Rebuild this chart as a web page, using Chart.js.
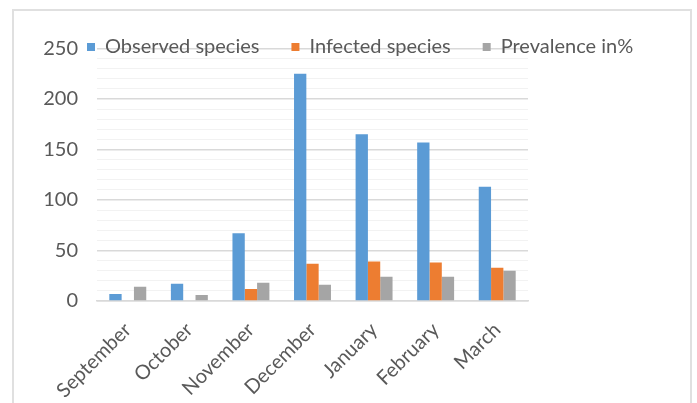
<!DOCTYPE html>
<html>
<head>
<meta charset="utf-8">
<script src="https://cdn.jsdelivr.net/npm/chart.js@4.4.0/dist/chart.umd.min.js"></script>
<style>
    html, body { margin: 0; padding: 0; background: #fff; overflow: hidden; }
    #frame { position: absolute; left: 12px; top: 9px; width: 676px; height: 420px; border: 2px solid #e0e0e0; }
    #chart { position: absolute; left: 0; top: 0; }
</style>
</head>
<body>
<div id="frame"></div>
<canvas id="chart" width="697" height="403"></canvas>
<script>
const months = ['September', 'October', 'November', 'December', 'January', 'February', 'March'];
const observed = [7, 17, 67, 225, 165, 157, 113];
const infected = [0, 0, 12, 37, 39, 38, 33];
const prevalence = [14, 6, 18, 16, 24, 24, 30];
const yMax = 250;
const yStep = 10;
const yLabelStep = 50;

const FONT_SIZE = 20;
const LEGEND_GAP = 32;

Chart.defaults.font.family = 'Lato, "Open Sans", sans-serif';
Chart.defaults.font.size = FONT_SIZE;
Chart.defaults.color = '#595959';

// put the legend on the 250 line like the original, instead of above the plot
const legendMover = {
    id: 'legendMover',
    afterLayout(chart) {
        const lg = chart.legend;
        lg.left = 87 - LEGEND_GAP;
        lg.top = 47 - LEGEND_GAP - FONT_SIZE / 2;
        lg.right = chart.width;
        lg.bottom = lg.top + 2 * LEGEND_GAP + FONT_SIZE;
    }
};

new Chart(document.getElementById('chart').getContext('2d'), {
    type: 'bar',
    data: {
        labels: months,
        datasets: [{
            label: 'Observed species',
            data: observed,
            backgroundColor: '#5b9bd5',
            borderWidth: 0
        }, {
            label: 'Infected species',
            data: infected,
            backgroundColor: '#ed7d31',
            borderWidth: 0
        }, {
            label: 'Prevalence in%',
            data: prevalence,
            backgroundColor: '#a5a5a5',
            borderWidth: 0
        }]
    },
    options: {
        responsive: false,
        animation: false,
        categoryPercentage: 0.6,
        barPercentage: 1.0,
        layout: {
            padding: { top: 47.5, right: 169, bottom: 0, left: 0 }
        },
        plugins: {
            legend: {
                position: 'top',
                align: 'start',
                maxHeight: 1,
                labels: {
                    boxWidth: 8,
                    boxHeight: 8,
                    padding: LEGEND_GAP,
                    color: '#595959'
                }
            },
            tooltip: { enabled: false }
        },
        scales: {
            x: {
                grid: { display: false },
                border: { color: '#d9d9d9', width: 1.5 },
                ticks: {
                    minRotation: 45,
                    maxRotation: 45,
                    padding: 9,
                    autoSkip: false
                },
                afterFit(scale) { scale.height = 102; }
            },
            y: {
                min: 0,
                max: yMax,
                border: { display: false },
                grid: {
                    drawTicks: false,
                    color: c => c.tick.value % yLabelStep === 0 ? '#d9d9d9' : '#f2f2f2',
                    lineWidth: c => c.tick.value % yLabelStep === 0 ? 1.5 : 1
                },
                ticks: {
                    stepSize: yStep,
                    autoSkip: false,
                    padding: 19,
                    callback: v => v % yLabelStep === 0 ? v : ''
                },
                afterFit(scale) { scale.width = 97; }
            }
        }
    },
    plugins: [legendMover]
});
</script>
</body>
</html>
